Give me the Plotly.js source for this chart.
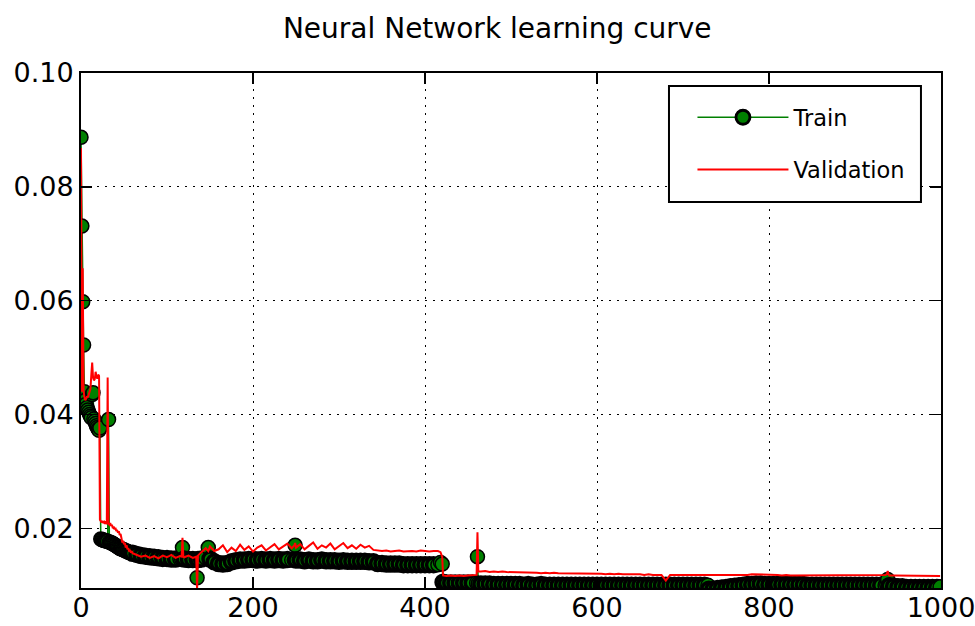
<!DOCTYPE html>
<html>
<head>
<meta charset="utf-8">
<script src="https://cdn.plot.ly/plotly-3.0.1.min.js"></script>
<style>
  html, body { margin: 0; padding: 0; background: #ffffff; }
  #chart { width: 975px; height: 626px; }
</style>
</head>
<body>
<div id="chart"></div>
<script>
// ---- Data: epochs 0..59 (every epoch) ----
const epochsEarly = [0,1,2,3,4,5,6,7,8,9,10,11,12,13,14,15,16,17,18,19,20,21,22,23,24,25,26,27,28,29,
  30,31,32,33,34,35,36,37,38,39,40,41,42,43,44,45,46,47,48,49,50,51,52,53,54,55,56,57,58,59];
const trainEarly = [0.0887,0.0731,0.0598,0.0522,0.0440,0.0425,0.0418,0.0412,0.0408,0.0404,
  0.0400,0.0397,0.0394,0.0435,0.0438,0.0392,0.0388,0.0384,0.0380,0.0377,
  0.0374,0.0372,0.0376,0.0181,0.0180,0.0180,0.0179,0.0179,0.0178,0.0178,
  0.0177,0.0177,0.0391,0.0176,0.0175,0.0174,0.0174,0.0173,0.0172,0.0171,
  0.0170,0.0169,0.0168,0.0167,0.0166,0.0165,0.0164,0.0164,0.0163,0.0162,
  0.0162,0.0161,0.0160,0.0160,0.0159,0.0158,0.0158,0.0157,0.0157,0.0156];
const valEarly = [0.0868,0.0440,0.0657,0.0442,0.0430,0.0425,0.0428,0.0432,0.0430,0.0435,
  0.0440,0.0445,0.0470,0.0491,0.0465,0.0460,0.0462,0.0475,0.0466,0.0463,
  0.0470,0.0468,0.0215,0.0212,0.0210,0.0213,0.0209,0.0211,0.0208,0.0212,
  0.0207,0.0465,0.0208,0.0206,0.0209,0.0204,0.0206,0.0200,0.0203,0.0198,
  0.0201,0.0195,0.0197,0.0192,0.0195,0.0188,0.0190,0.0183,0.0175,0.0178,
  0.0172,0.0174,0.0166,0.0170,0.0163,0.0165,0.0159,0.0162,0.0157,0.0160];

// ---- Data: epochs 60..420 (sampled) ----
const epochsMid = [60,65,70,75,80,85,90,95,100,105,110,115,117,118,119,120,125,130,134,135,136,
  140,145,148,150,155,160,165,170,175,180,185,190,195,200,205,210,215,220,225,230,235,240,245,
  248,249,250,255,260,265,270,275,280,285,290,295,300,305,310,315,320,325,330,335,340,
  345,350,355,360,365,370,375,380,385,390,395,400,405,410,415,418,420];
const trainMid = [0.0156,0.0154,0.0152,0.0151,0.0150,0.0149,0.0148,0.0147,0.0147,0.0146,0.0146,0.0146,0.0146,0.0166,0.0146,0.0146,0.0145,0.0145,0.0145,0.0113,0.0145,
  0.0146,0.0148,0.0166,0.0146,0.0141,0.0138,0.0137,0.0138,0.0141,0.0143,0.0144,0.0144,0.0145,0.0145,0.0144,0.0145,0.0144,0.0145,0.0144,0.0145,0.0144,0.0145,0.0144,
  0.0144,0.0170,0.0144,0.0144,0.0143,0.0144,0.0143,0.0143,0.0144,0.0143,0.0143,0.0143,0.0142,0.0143,0.0142,0.0142,0.0142,0.0142,0.0142,0.0141,0.0141,
  0.0138,0.0138,0.0137,0.0137,0.0137,0.0137,0.0136,0.0136,0.0136,0.0136,0.0136,0.0136,0.0136,0.0136,0.0136,0.0140,0.0137];
const valMid = [0.0156,0.0153,0.0150,0.0152,0.0148,0.0151,0.0147,0.0152,0.0149,0.0153,0.0148,0.0151,0.0150,0.0183,0.0150,0.0149,0.0152,0.0148,0.0150,0.0092,0.0152,
  0.0158,0.0165,0.0160,0.0168,0.0160,0.0163,0.0170,0.0158,0.0166,0.0160,0.0171,0.0162,0.0168,0.0159,0.0166,0.0170,0.0161,0.0167,0.0172,0.0163,0.0168,0.0173,0.0165,
  0.0170,0.0174,0.0166,0.0172,0.0163,0.0169,0.0175,0.0164,0.0170,0.0166,0.0173,0.0163,0.0169,0.0174,0.0165,0.0170,0.0164,0.0171,0.0166,0.0169,0.0162,
  0.0161,0.0160,0.0161,0.0159,0.0160,0.0161,0.0159,0.0160,0.0160,0.0159,0.0161,0.0160,0.0159,0.0160,0.0160,0.0158,0.0150];

// ---- Data: epochs 421..999 (sampled) ----
const epochsLate = [421,425,430,435,440,445,450,455,460,461,462,465,470,475,480,485,490,495,
  500,505,510,515,520,525,530,535,540,545,550,555,560,565,570,575,580,585,590,595,
  600,605,610,615,620,625,630,635,640,645,650,655,660,665,670,675,680,685,690,695,
  700,705,710,715,720,725,729,730,735,740,745,750,755,760,765,770,775,780,785,790,795,
  800,805,810,815,820,825,830,835,840,845,850,855,860,865,870,875,880,885,890,895,
  900,905,910,915,920,925,930,935,937,938,939,940,945,950,955,960,965,970,975,980,985,990,995,999];
const trainLate = [0.0105,0.0104,0.0104,0.0104,0.0104,0.0104,0.0104,0.0104,0.0104,0.0150,0.0103,0.0102,0.0102,0.0102,0.0101,0.0101,0.0101,0.0101,
  0.0101,0.0101,0.0101,0.0100,0.0101,0.0100,0.0100,0.0101,0.0100,0.0100,0.0100,0.0100,0.0100,0.0100,0.0100,0.0100,0.0100,0.0100,0.0100,0.0100,
  0.0100,0.0100,0.0100,0.0100,0.0100,0.0100,0.0100,0.0100,0.0100,0.0100,0.0100,0.0100,0.0100,0.0100,0.0100,0.0100,0.0100,0.0100,0.0100,0.0100,
  0.0100,0.0100,0.0100,0.0100,0.0100,0.0100,0.0100,0.0093,0.0093,0.0094,0.0095,0.0096,0.0097,0.0098,0.0099,0.0100,0.0101,0.0101,0.0102,0.0102,0.0101,
  0.0101,0.0101,0.0101,0.0101,0.0101,0.0101,0.0101,0.0101,0.0101,0.0100,0.0100,0.0100,0.0100,0.0100,0.0100,0.0100,0.0100,0.0100,0.0100,0.0100,
  0.0100,0.0100,0.0100,0.0100,0.0100,0.0100,0.0100,0.0100,0.0101,0.0110,0.0100,0.0099,0.0098,0.0097,0.0097,0.0096,0.0096,0.0096,0.0096,0.0096,0.0096,0.0096,0.0096,0.0097];
const valLate = [0.0117,0.0116,0.0117,0.0116,0.0117,0.0116,0.0117,0.0118,0.0118,0.0193,0.0124,0.0124,0.0125,0.0123,0.0124,0.0123,0.0124,0.0123,
  0.0123,0.0122,0.0123,0.0122,0.0122,0.0123,0.0122,0.0121,0.0122,0.0121,0.0122,0.0121,0.0121,0.0120,0.0121,0.0120,0.0121,0.0120,0.0120,0.0121,
  0.0120,0.0120,0.0119,0.0120,0.0119,0.0120,0.0119,0.0119,0.0120,0.0119,0.0119,0.0118,0.0119,0.0118,0.0118,0.0118,0.0108,0.0118,0.0118,0.0118,
  0.0118,0.0118,0.0118,0.0117,0.0118,0.0118,0.0118,0.0117,0.0117,0.0117,0.0117,0.0117,0.0117,0.0118,0.0118,0.0118,0.0118,0.0119,0.0119,0.0118,0.0118,
  0.0118,0.0118,0.0118,0.0117,0.0118,0.0117,0.0117,0.0118,0.0117,0.0117,0.0118,0.0117,0.0117,0.0117,0.0117,0.0117,0.0117,0.0117,0.0117,0.0117,
  0.0117,0.0117,0.0117,0.0117,0.0117,0.0117,0.0117,0.0118,0.0119,0.0125,0.0119,0.0117,0.0117,0.0117,0.0116,0.0116,0.0116,0.0116,0.0116,0.0116,0.0116,0.0116,0.0116,0.0116];

// ---- Axis ticks ----
const xTicks = [0, 200, 400, 600, 800, 1000];
const xTickLabels = ['0', '200', '400', '600', '800', '1000'];
const yTicks = [0.02, 0.04, 0.06, 0.08, 0.10];
const yTickLabels = ['0.02', '0.04', '0.06', '0.08', '0.10'];

const epochs = epochsEarly.concat(epochsMid, epochsLate);
const trainLoss = trainEarly.concat(trainMid, trainLate);
const valLoss = valEarly.concat(valMid, valLate);

// The original was recorded every epoch, so its markers overlap into a dark band.
// Where this file samples more sparsely, give the marker edge more weight to keep that look.
const markerEdge = epochs.map(function (e, i) {
  const next = i < epochs.length - 1 ? epochs[i + 1] : e;
  const prev = i > 0 ? epochs[i - 1] : e;
  return (next - e >= 4 || (e - prev >= 4 && next - e >= 4)) ? 3.5 : 1.5;
});

const FONT = '"DejaVu Sans", Verdana, sans-serif';

const traces = [
  {
    x: epochs, y: trainLoss, name: 'Train', type: 'scatter', mode: 'lines+markers',
    legendgroup: 'a',
    line: { color: '#008000', width: 1.5 },
    marker: { color: '#008000', size: 14, line: { color: '#000000', width: markerEdge } }
  },
  {
    x: epochs, y: valLoss, name: 'Validation', type: 'scatter', mode: 'lines',
    legendgroup: 'b',
    line: { color: '#ff0000', width: 2 }
  }
];

const axisCommon = {
  showline: true, linecolor: '#000000', linewidth: 2, mirror: 'allticks',
  ticks: 'inside', ticklen: 11, tickwidth: 1.5, tickcolor: '#000000',
  showgrid: true, gridcolor: '#000000', gridwidth: 1, griddash: '2px,6px',
  zeroline: false, ticklabeloverflow: 'allow',
  tickfont: { family: FONT, size: 27, color: '#000000' }
};

const layout = {
  width: 975, height: 626,
  paper_bgcolor: '#ffffff', plot_bgcolor: '#ffffff',
  margin: { l: 81, r: 34, t: 73, b: 38, pad: 0 },
  title: {
    text: 'Neural Network learning curve',
    font: { family: FONT, size: 28, color: '#000000' },
    x: 0.51, xref: 'container', xanchor: 'center',
    y: 0.955, yref: 'container', yanchor: 'middle'
  },
  xaxis: Object.assign({}, axisCommon, {
    range: [0, 1000], tickmode: 'array', tickvals: xTicks, ticktext: xTickLabels,
    ticklabelstandoff: -5
  }),
  yaxis: Object.assign({}, axisCommon, {
    range: [0.0095, 0.1], tickmode: 'array', tickvals: yTicks, ticktext: yTickLabels
  }),
  showlegend: true,
  legend: {
    x: 0.711, y: 0.955, xanchor: 'left', yanchor: 'top',
    bgcolor: 'rgba(0,0,0,0)', borderwidth: 0,
    font: { family: FONT, size: 22.5, color: '#000000' },
    traceorder: 'grouped', tracegroupgap: 20, itemwidth: 91
  },
  shapes: [{
    type: 'rect', xref: 'paper', yref: 'paper',
    x0: 0.6837, x1: 0.9767, y0: 0.7495, y1: 0.9748,
    line: { color: '#000000', width: 2 }, fillcolor: '#ffffff', layer: 'above'
  }]
};

Plotly.newPlot('chart', traces, layout, { displayModeBar: false, staticPlot: true });
</script>
</body>
</html>
